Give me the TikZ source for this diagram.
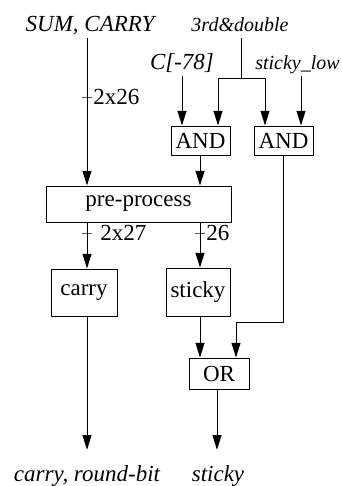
\documentclass[tikz,border=0pt]{standalone}
\usepackage{fontspec}
\setmainfont{Liberation Serif}
\usetikzlibrary{arrows.meta}

\tikzset{
  box/.style={draw, line width=0.75pt, inner sep=0pt},
  sig/.style={font=\itshape, inner sep=0.75pt, text depth=0.25em},
  sigsmall/.style={sig, font=\fontsize{15}{18}\selectfont\itshape},
  wire/.style={line width=0.75pt},
  arr/.style={line width=0.75pt, -{Triangle[length=11pt, width=6.75pt]}},
  tick/.style={draw, line width=0.75pt, minimum width=7.5pt, minimum height=0pt, inner sep=0pt, outer sep=0pt},
  buslbl/.style={anchor=west, inner sep=0.75pt}
}

\begin{document}
\fontsize{17.25}{20}\selectfont
\begin{tikzpicture}[x=0.75pt, y=-0.75pt]
		%%%%% START %%%%%
		\useasboundingbox (0,0) rectangle (342,486);
		
		% inputs
		\node[sig, anchor=base] (sum) at (90,31) {SUM, CARRY};
		\node[sigsmall, anchor=base] (dbl) at (240,31) {3rd\&double};
		\node[sig, anchor=base] (cin) at (182,69) {C[-78]};
		\node[sigsmall, anchor=base] (slow) at (297.5,69) {sticky\_low};
		
		% gates and blocks
		\node[box, minimum width=44.25pt, minimum height=21.75pt] (and1) at (200.5,140.5) {AND};
		\node[box, minimum width=44.25pt, minimum height=21.75pt] (and2) at (283.5,140.5) {AND};
		\node[box, minimum width=138.75pt, minimum height=27pt] (pre) at (138.5,204) {pre-process};
		\node[box, minimum width=49.5pt, minimum height=35.25pt] (car) at (84,292.5) {carry};
		\node[box, minimum width=48pt, minimum height=36pt] (stk) at (198,292) {sticky};
		\node[box, minimum width=45pt, minimum height=23.25pt] (orgate) at (219,373.5) {OR};
		
		% outputs
		\node[sig, anchor=base] (cout) at (87,481) {carry, round-bit};
		\node[sig, anchor=base] (sout) at (218,481) {sticky};
		
		% wire columns and bends
		\coordinate (xa) at (87,0);
		\coordinate (xb) at (200,0);
		\coordinate (xc) at (182,0);
		\coordinate (xs) at (301,0);
		\coordinate (xl) at (218,0);
		\coordinate (xr) at (265,0);
		\coordinate (xo) at (217,0);
		\coordinate (fork) at (241,78);
		\coordinate (bend) at (236,322);
		
		\draw[arr] (sum.south -| xa) -- (pre.north -| xa);
		\draw[wire] (dbl.south -| fork) -- (fork);
		\draw[arr] (fork) -| (and1.north -| xl);
		\draw[arr] (fork) -| (and2.north -| xr);
		\draw[arr] (cin.south -| xc) -- (and1.north -| xc);
		\draw[arr] (slow.south -| xs) -- (and2.north -| xs);
		\draw[arr] (and1.south -| xb) -- (pre.north -| xb);
		
		\draw[arr] (pre.south -| xa) -- (car.north -| xa);
		\draw[arr] (pre.south -| xb) -- (stk.north -| xb);
		\draw[arr] (stk.south -| xb) -- (orgate.north -| xb);
		\draw[arr] (and2.south) |- (bend) -- (orgate.north -| bend);
		
		\draw[arr, shorten >=10.5pt] (car.south -| xa) -- (cout.north -| xa);
		\draw[arr, shorten >=10.5pt] (orgate.south -| xo) -- (sout.north -| xo);
		
		% bus widths
		\node[tick] (t1) at (87,97) {};
		\node[buslbl] at (t1.east) {2x26};
		\node[tick] (t2) at (87,233) {};
		\node[buslbl, xshift=5.25pt] at (t2.east) {2x27};
		\node[tick] (t3) at (200,233) {};
		\node[buslbl] at (t3.east) {26};
		
		%%%%% END %%%%%
	\end{tikzpicture}
\end{document}
